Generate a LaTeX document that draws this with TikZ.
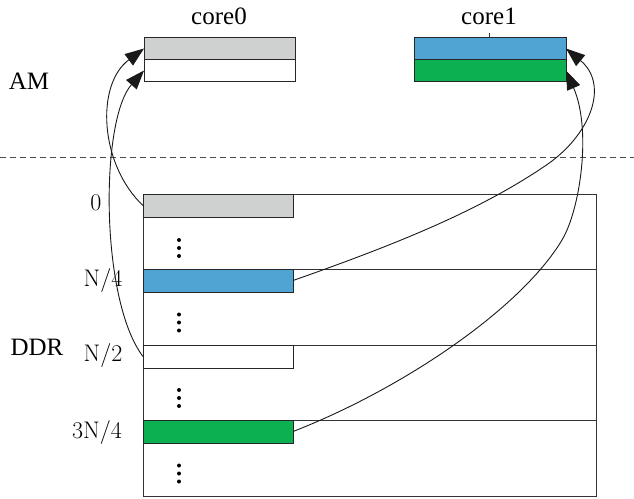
\documentclass[tikz,border=0pt]{standalone}
\usepackage{fontspec}
\newfontfamily\timesfont{Liberation Serif}
\usetikzlibrary{arrows.meta}
\definecolor{slotgray}{RGB}{207,209,208}
\definecolor{slotblue}{RGB}{79,164,212}
\definecolor{slotgreen}{RGB}{12,176,80}
\tikzset{
  box/.style={draw=black!85, line width=1pt, inner sep=0pt, outer sep=0pt, anchor=center},
  amslot/.style={box, minimum width=151pt, minimum height=22pt},
  section/.style={draw=black!80, line width=0.9pt, inner sep=0pt, outer sep=0pt,
                  minimum width=453pt, minimum height=75.5pt},
  ddrslot/.style={box, minimum width=150pt, minimum height=23pt},
  title/.style={font=\timesfont\fontsize{25}{27}\selectfont, inner sep=0pt},
  addr/.style={font=\fontsize{24}{26}\selectfont, inner sep=0pt},
  link/.style={draw=black!90, line width=0.9pt, -{Triangle[length=19pt,width=14pt]}},
}
\begin{document}
\begin{tikzpicture}[x=1pt, y=-1pt]
  \useasboundingbox (0,0) rectangle (634,498);

  % headings
  \node[title] (t0) at (219,16) {core0};
  \node[title] (t1) at (489,16) {core1};
  \node[title] (am) at (29,81) {AM};
  \node[title] (ddrlab) at (37,347) {DDR};

  % AM buffers of the two cores
  \node[amslot, fill=slotgray] (c0a) at (219.5,48.5) {};
  \node[amslot, fill=white]    (c0b) at (219.5,70.5) {};
  \node[amslot, minimum width=152pt, fill=slotblue]  (c1a) at (490,48.5) {};
  \node[amslot, minimum width=152pt, fill=slotgreen] (c1b) at (490,70.5) {};
  \coordinate (tick) at (489,33);
  \draw[black!80, line width=0.8pt] (c1a.north -| tick) -- (tick);

  % separator between AM and DDR
  \draw[black!70, line width=0.8pt, dash pattern=on 6pt off 4pt] (0,157) -- (634,157);

  % DDR sections
  \node[section] (sec0) at (369.5,231.75) {};
  \node[section] (sec1) at (369.5,307.25) {};
  \node[section] (sec2) at (369.5,382.75) {};
  \node[section] (sec3) at (369.5,458.25) {};

  % DDR slots
  \node[ddrslot, fill=slotgray]  (s0) at (218,205.5) {};
  \node[ddrslot, fill=slotblue]  (s1) at (218,280.5) {};
  \node[ddrslot, fill=white]     (s2) at (218,356.5) {};
  \node[ddrslot, fill=slotgreen] (s3) at (218,431.5) {};

  % vertical ellipses
  \foreach \yc in {248,322.5,398,473.5}
    \foreach \dy in {-8,0,8}
      \fill (179,\yc+\dy) circle (2pt);

  % addresses
  \node[addr] (a0) at (96,203) {0};
  \node[addr] (a1) at (103,280) {N/4};
  \node[addr] (a2) at (103,355) {N/2};
  \node[addr] (a3) at (97,432) {3N/4};

  % transfers from DDR to AM
  \draw[link] (s0.west) .. controls (100,165) and (95,85) .. (c0a.west);
  \draw[link] (s2.west) .. controls (100,300) and (100,120) .. (c0b.west);
  \draw[link] (s1.east) .. controls (400,243) and (480,210) .. (545,166)
                        .. controls (590,136) and (610,85) .. (c1a.east);
  \draw[link] (s3.east) .. controls (400,390) and (520,310) .. (562,240)
                        .. controls (580,210) and (592,130) .. (c1b.east);
\end{tikzpicture}
\end{document}
